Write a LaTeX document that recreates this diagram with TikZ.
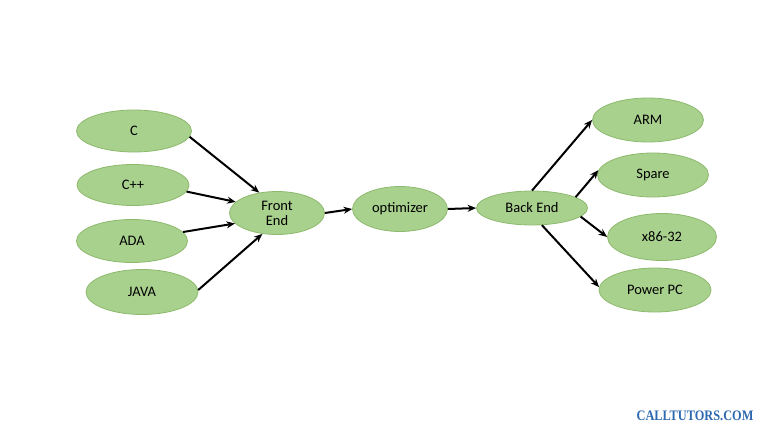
\documentclass[tikz,border=0pt]{standalone}
\usepackage{fontspec}
\setmainfont{Carlito}
\newfontfamily\wmfont{Liberation Serif}
\usetikzlibrary{shapes.geometric,arrows.meta}
\definecolor{nodefill}{HTML}{A9D18E}
\definecolor{nodedraw}{HTML}{8DB96C}
\definecolor{wmblue}{HTML}{2E69B0}
\tikzset{
  blob/.style={ellipse, fill=nodefill, draw=nodedraw, line width=0.8pt, inner sep=0pt,
    font=\fontsize{14.5}{16}\selectfont, align=center},
  conn/.style={-{Stealth[length=8.5pt,width=7pt]}, line width=2pt, black}
}
\begin{document}
\begin{tikzpicture}[x=1pt,y=-1pt]
\useasboundingbox (0,0) rectangle (760,428);
\node[blob, minimum width=115pt, minimum height=42pt] (c) at (134,131) {C};
\node[blob, minimum width=112pt, minimum height=41pt] (cpp) at (133,185) {C++};
\node[blob, minimum width=111pt, minimum height=43pt] (ada) at (132,241) {ADA};
\node[blob, minimum width=112pt, minimum height=45pt] (java) at (142,292) {JAVA};
\node[blob, minimum width=95pt, minimum height=43pt] (fe) at (277,213) {Front\\[-1pt]End};
\node[blob, minimum width=95pt, minimum height=45pt] (opt) at (400,209) {optimizer};
\node[blob, minimum width=111pt, minimum height=34pt] (be) at (532,208) {Back End};
\node[blob, minimum width=111pt, minimum height=44pt] (arm) at (648,120) {ARM};
\node[blob, minimum width=111pt, minimum height=44pt] (spare) at (653,175) {Spare};
\node[blob, minimum width=109pt, minimum height=47pt] (x86) at (662,237) {x86-32};
\node[blob, minimum width=112pt, minimum height=44pt] (ppc) at (655,290) {Power PC};

\draw[conn] (c.-6) -- (fe.131);
\draw[conn] (cpp.-7) -- (fe.165);
\draw[conn] (ada.10) -- (fe.194);
\draw[conn] (java.2) -- (fe.235);
\draw[conn] (fe.east) -- (opt.west);
\draw[conn] (opt.east) -- (be.west);
\draw[conn] (be.90) -- (arm.180);
\draw[conn] (be.14) -- (spare.175);
\draw[conn] (be.-10) -- (x86.180);
\draw[conn] (be.-60) -- (ppc.177);

\node[font=\wmfont\bfseries\fontsize{14.5}{16}\selectfont, text=wmblue, xscale=0.85, transform shape, inner sep=0pt] (wm) at (695,416) {CALLTUTORS.COM};
\end{tikzpicture}
\end{document}
